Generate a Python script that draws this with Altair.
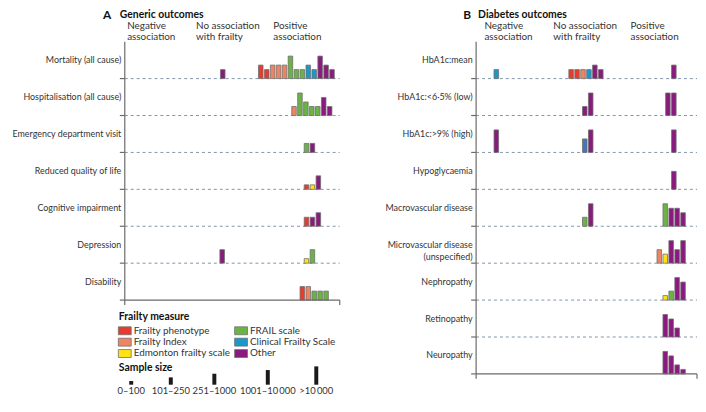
import altair as alt
import pandas as pd

# ---------------- data ----------------
measures = ["Frailty phenotype", "Frailty Index", "Edmonton frailty scale",
            "FRAIL scale", "Clinical Frailty Scale", "Other"]
measure_codes = ["FP", "FI", "EFS", "FR", "CFS", "O"]
measure_colors = ["#e63b2e", "#ef8462", "#ffe312", "#6ab344", "#1b98c9", "#8a1a7e"]
extra_codes = ["CFSb"]
extra_colors = ["#4676b6"]

size_classes = [1, 2, 3, 4, 5]
size_labels = ["0\u2013100", "101\u2013250", "251\u20131000", "1001\u201310\u2009000", ">10\u2009000"]

group_keys = ["neg", "none", "pos"]
group_line1 = ["Negative", "No association", "Positive"]
group_line2 = ["association", "with frailty", "association"]
group_start = [1.4, 13.0, 26.0]

generic_outcomes = ["Mortality (all cause)", "Hospitalisation (all cause)",
                    "Emergency department visit", "Reduced quality of life",
                    "Cognitive impairment", "Depression", "Disability"]
# (outcome, group, first slot, [(measure code, sample-size class), ...])
generic_bars = [
    ("Mortality (all cause)", "none", 17.5, [("O", 2)]),
    ("Mortality (all cause)", "pos", 23.9, [("FP", 3), ("FP", 2), ("FI", 3), ("FI", 3), ("FI", 3),
                                            ("FR", 5), ("FR", 2), ("FR", 2), ("CFS", 3), ("CFS", 2),
                                            ("O", 5), ("O", 3), ("O", 2)]),
    ("Hospitalisation (all cause)", "pos", 29.5, [("FI", 2), ("FR", 5), ("FR", 3), ("FR", 2),
                                                  ("FR", 2), ("O", 4), ("O", 2)]),
    ("Emergency department visit", "pos", 31.6, [("FR", 2), ("O", 2)]),
    ("Reduced quality of life", "pos", 31.6, [("FP", 1), ("EFS", 1), ("O", 3)]),
    ("Cognitive impairment", "pos", 31.6, [("FP", 2), ("O", 2), ("O", 3)]),
    ("Depression", "none", 17.4, [("O", 3)]),
    ("Depression", "pos", 31.6, [("EFS", 1), ("FR", 3)]),
    ("Disability", "pos", 30.9, [("FP", 3), ("FI", 3), ("FR", 2), ("FR", 2), ("FR", 2)]),
]

diabetes_outcomes = ["HbA1c:mean", "HbA1c:<6\u00b75% (low)", "HbA1c:>9% (high)", "Hypoglycaemia",
                     "Macrovascular disease", "Microvascular disease\n(unspecified)",
                     "Nephropathy", "Retinopathy", "Neuropathy"]
diabetes_bars = [
    ("HbA1c:mean", "neg", 3.4, [("CFS", 2)]),
    ("HbA1c:mean", "none", 16.0, [("FP", 2), ("FP", 2), ("FI", 2), ("CFS", 2), ("O", 3), ("O", 2)]),
    ("HbA1c:mean", "pos", 33.3, [("O", 3)]),
    ("HbA1c:<6\u00b75% (low)", "none", 18.3, [("O", 2), ("O", 5)]),
    ("HbA1c:<6\u00b75% (low)", "pos", 32.3, [("O", 5), ("O", 5)]),
    ("HbA1c:>9% (high)", "neg", 3.4, [("O", 5)]),
    ("HbA1c:>9% (high)", "none", 18.3, [("CFSb", 3), ("O", 5)]),
    ("HbA1c:>9% (high)", "pos", 33.3, [("O", 5)]),
    ("Hypoglycaemia", "pos", 33.3, [("O", 4)]),
    ("Macrovascular disease", "none", 18.3, [("FR", 2), ("O", 5)]),
    ("Macrovascular disease", "pos", 31.85, [("FR", 5), ("O", 4), ("O", 4), ("O", 3)]),
    ("Microvascular disease\n(unspecified)", "pos", 30.85, [("FI", 3), ("EFS", 2), ("O", 5), ("O", 3), ("O", 5)]),
    ("Nephropathy", "pos", 31.85, [("EFS", 1), ("FR", 2), ("O", 5), ("O", 4)]),
    ("Retinopathy", "pos", 31.85, [("O", 5), ("O", 4), ("O", 2)]),
    ("Neuropathy", "pos", 31.85, [("O", 5), ("O", 4), ("O", 2), ("O", 1)]),
]

# ---------------- layout / style ----------------
FONT = "Lato"
TEXT = "#333333"
AXIS = "#6b6b6b"
DASH = "#7d95aa"
SLOT_PX = 6.0
X_SLOTS = 37.2
A_FROM = 1.0                       # panel A axis sits one slot in
A_W = (X_SLOTS - A_FROM) * SLOT_PX
B_W = X_SLOTS * SLOT_PX
B_X0 = 355
VIEW_W = B_X0 + B_W
VIEW_H = 358
ROW_PX = 37.3
BAR_PX = 4.55        # bar height per sample-size class
KEY_BAR_PX = 3.7     # legend bar height per sample-size class
BAR_W = 4.6
LEG_X = -6.5
SAMPLE_KEY_X = [13, 53, 97, 151, 200]


def bars_frame(outcomes, bars):
    n = len(outcomes)
    colour = dict(zip(measure_codes + extra_codes, measure_colors + extra_colors))
    recs = []
    for outcome, group, start, items in bars:
        base = n - 1 - outcomes.index(outcome)
        for i, (code, size) in enumerate(items):
            recs.append({"outcome": outcome, "group": group, "x": start + i,
                         "base": base, "size": size, "colour": colour[code]})
    return pd.DataFrame(recs)


def panel(letter, title, outcomes, bars, x0, slot_from, W, letter_dx, title_dx, legend=False):
    n = len(outcomes)
    H = n * ROW_PX
    xs = alt.Scale(domain=[slot_from, X_SLOTS], range=[x0, x0 + W], nice=False, zero=False, padding=0)
    ys = alt.Scale(domain=[0, n], range=[H, 0], nice=False, zero=False, padding=0)
    k = BAR_PX / ROW_PX
    rows = pd.DataFrame({"label": outcomes, "base": [n - 1 - i for i in range(n)]})
    rows["mid"] = rows["base"] + 0.5
    rows["top"] = rows["base"] + 1

    dash = alt.Chart(rows[rows["base"] > 0]).mark_rule(
        strokeDash=[3, 3], color=DASH, strokeWidth=1
    ).encode(y=alt.Y("base:Q", scale=ys, axis=None), x=alt.value(x0), x2=alt.value(x0 + W))

    y_axis = alt.Chart(rows).mark_rule(color=AXIS, strokeWidth=1.2).encode(
        x=alt.value(x0), y=alt.Y("base:Q", scale=ys, axis=None), y2="top:Q")
    y_ticks = alt.Chart(rows).mark_rule(color=AXIS, strokeWidth=1.2).encode(
        x=alt.value(x0 - 5), x2=alt.value(x0), y=alt.Y("base:Q", scale=ys, axis=None))
    x_axis = alt.Chart(rows[rows["base"] == 0]).mark_rule(color=AXIS, strokeWidth=1.2).encode(
        x=alt.value(x0), x2=alt.value(x0 + W), y=alt.Y("base:Q", scale=ys, axis=None))
    x_ticks = alt.Chart(alt.Data(values=[{"e": slot_from}, {"e": X_SLOTS}])).mark_rule(
        color=AXIS, strokeWidth=1.2).encode(
        x=alt.X("e:Q", scale=xs, axis=None), y=alt.value(H), y2=alt.value(H + 5))

    bar_layer = alt.Chart(bars_frame(outcomes, bars)).transform_calculate(
        top=f"datum.base + datum.size * {k}"
    ).mark_bar(width=BAR_W, stroke="#707070", strokeWidth=0.8).encode(
        x=alt.X("x:Q", scale=xs, axis=None),
        y=alt.Y("base:Q", scale=ys, axis=None),
        y2="top:Q",
        color=alt.Color("colour:N", scale=None),
    )

    labels = alt.Chart(rows).mark_text(
        align="right", baseline="middle", font=FONT, fontSize=9, color=TEXT, lineBreak="\n",
        lineHeight=12
    ).encode(y=alt.Y("mid:Q", scale=ys, axis=None), x=alt.value(x0 - 3.5), text="label:N")

    hdr = pd.DataFrame({"hx": group_start, "l1": group_line1, "l2": group_line2, "g": group_keys})
    h1 = alt.Chart(hdr).mark_text(align="left", baseline="middle", font=FONT, fontSize=10,
                                  color=TEXT).encode(
        x=alt.X("hx:Q", scale=xs, axis=None), y=alt.value(-15.5), text="l1:N")
    h2 = alt.Chart(hdr).mark_text(align="left", baseline="middle", font=FONT, fontSize=10,
                                  color=TEXT).encode(
        x=alt.X("hx:Q", scale=xs, axis=None), y=alt.value(-4.5), text="l2:N")

    t1 = alt.Chart(alt.Data(values=[{"t": letter}])).mark_text(
        align="left", baseline="middle", font=FONT, fontSize=12, fontWeight="bold", color="#111111"
    ).encode(x=alt.value(x0 + letter_dx), y=alt.value(-27), text="t:N")
    t2 = alt.Chart(alt.Data(values=[{"t": title}])).mark_text(
        align="left", baseline="middle", font=FONT, fontSize=10.5, fontWeight="bold", color="#111111"
    ).encode(x=alt.value(x0 + title_dx), y=alt.value(-27), text="t:N")

    layers = [dash, bar_layer, y_axis, y_ticks, x_axis, x_ticks, labels, h1, h2, t1, t2]

    if legend:
        lx = x0 + LEG_X
        leg = pd.DataFrame({"measure": measures, "colour": measure_colors, "idx": list(range(6))})
        base_leg = alt.Chart(leg).transform_calculate(
            sx=f"{lx} + floor(datum.idx / 3) * 117.5",
            sy=f"{H + 31} + (datum.idx % 3) * 11.5",
        ).transform_calculate(
            sx2="datum.sx + 13", sy1="datum.sy - 4", sy2="datum.sy + 4", tx="datum.sx + 15.5"
        )
        sw = base_leg.mark_rect(stroke="#707070", strokeWidth=0.8).encode(
            x=alt.X("sx:Q", scale=None), x2="sx2:Q",
            y=alt.Y("sy1:Q", scale=None), y2="sy2:Q",
            color=alt.Color("colour:N", scale=None))
        sl = base_leg.mark_text(align="left", baseline="middle", font=FONT, fontSize=10,
                                color=TEXT).encode(
            x=alt.X("tx:Q", scale=None), y=alt.Y("sy:Q", scale=None), text="measure:N")

        heads = alt.Chart(alt.Data(values=[{"t": "Frailty measure", "dy": 17.5},
                                           {"t": "Sample size", "dy": 68.5}])).transform_calculate(
            hy=f"{H} + datum.dy").mark_text(
            align="left", baseline="middle", font=FONT, fontSize=10.5, fontWeight="bold",
            color="#111111").encode(x=alt.value(lx + 0.5), y=alt.Y("hy:Q", scale=None), text="t:N")

        sk = pd.DataFrame({"label": size_labels, "cls": size_classes, "cx": SAMPLE_KEY_X})
        sk_base = alt.Chart(sk).transform_calculate(
            x1=f"{lx} + datum.cx - 2", x2b=f"{lx} + datum.cx + 2", tx=f"{lx} + datum.cx",
            yb=f"{H + 85.5}", yt=f"{H + 85.5} - datum.cls * {KEY_BAR_PX}", ty=f"{H + 92}")
        sk_bars = sk_base.mark_rect(color="#1a1a1a").encode(
            x=alt.X("x1:Q", scale=None), x2="x2b:Q",
            y=alt.Y("yt:Q", scale=None), y2="yb:Q")
        sk_text = sk_base.mark_text(align="center", baseline="middle", font=FONT, fontSize=9.5,
                                    color=TEXT).encode(
            x=alt.X("tx:Q", scale=None), y=alt.Y("ty:Q", scale=None), text="label:N")
        layers += [sw, sl, heads, sk_bars, sk_text]

    return alt.layer(*layers)


panel_a = panel("A", "Generic outcomes", generic_outcomes, generic_bars,
                0, A_FROM, A_W, -22, -5, legend=True)
panel_b = panel("B", "Diabetes outcomes", diabetes_outcomes, diabetes_bars,
                B_X0, 0, B_W, -13, 2)

chart = alt.layer(panel_a, panel_b).resolve_scale(x="independent", y="independent").properties(
    width=VIEW_W, height=VIEW_H,
    autosize=alt.AutoSizeParams(type="none"),
    padding={"left": 118, "top": 32, "right": 1, "bottom": 0},
).configure_view(stroke=None)

chart.save("out.html", embed_options={"renderer": "svg", "actions": False})
